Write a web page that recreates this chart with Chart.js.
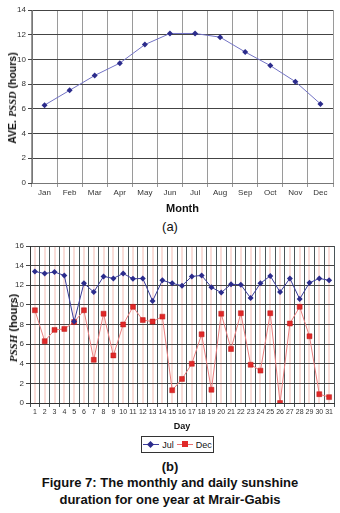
<!DOCTYPE html>
<html>
<head>
<meta charset="utf-8">
<script src="https://cdn.jsdelivr.net/npm/chart.js@4.4.1/dist/chart.umd.min.js"></script>
<style>
  html, body { margin: 0; padding: 0; background: #fff; }
  body { width: 340px; height: 513px; position: relative; overflow: hidden; font-family: "Liberation Sans", Arial, sans-serif; color: #111; }
  .box { position: absolute; left: 0; width: 340px; }
  .ytitle { position: absolute; font-weight: bold; white-space: nowrap; transform: translate(-50%, -50%) rotate(-90deg); }
  .ytitle i { font-family: "Liberation Serif", "Times New Roman", serif; font-weight: bold; }
  .lbl { position: absolute; left: 0; width: 340px; text-align: center; font-weight: bold; }
  .legend { position: absolute; left: 141px; top: 436px; width: 71px; height: 15px; border: 1px solid #333; font-size: 9px; display: flex; align-items: center; justify-content: center; gap: 3px; }
  .key { position: relative; display: inline-block; width: 16px; height: 9px; }
  .key::before { content: ''; position: absolute; left: 0; right: 0; top: 4px; height: 1px; background: var(--line); }
  .key span { position: absolute; left: 5px; top: 1px; width: 6px; height: 6px; background: var(--mark); }
  .key.dia span { width: 5px; height: 5px; left: 5px; top: 2px; transform: rotate(45deg); }
</style>
</head>
<body>
<div class="box" style="top:0;height:218px"><canvas id="monthChart"></canvas></div>
<div class="ytitle" style="left:12px;top:98px;font-size:10.5px">AVE. <i>PSSD</i> (hours)</div>
<div class="lbl" style="top:219px;font-size:13px;font-weight:normal">(a)</div>

<div class="box" style="top:232px;height:202px"><canvas id="dayChart"></canvas></div>
<div class="ytitle" style="left:13px;top:328px;font-size:11px"><i>PSSH</i> (hours)</div>
<div class="legend">
  <span class="key dia" style="--line:#3b3b9a;--mark:#2c2c8c"><span></span></span><span>Jul</span>
  <span class="key" style="--line:#e87070;--mark:#e02828"><span></span></span><span>Dec</span>
</div>
<div class="lbl" style="top:459px;font-size:13px">(b)</div>
<div class="lbl" style="top:474px;font-size:13px;line-height:17px">Figure 7: The monthly and daily sunshine<br>duration for one year at Mrair-Gabis</div>

<script>
// ---------- Data ----------
const MONTHS = ['Jan', 'Feb', 'Mar', 'Apr', 'May', 'Jun', 'Jul', 'Aug', 'Sep', 'Oct', 'Nov', 'Dec'];
const AVE_PSSD = [6.3, 7.5, 8.7, 9.7, 11.2, 12.1, 12.1, 11.8, 10.6, 9.5, 8.2, 6.4];

const DAYS = ['1','2','3','4','5','6','7','8','9','10','11','12','13','14','15','16','17','18','19','20','21','22','23','24','25','26','27','28','29','30','31'];
const JUL = [13.4, 13.2, 13.35, 13.0, 8.3, 12.2, 11.3, 12.9, 12.7, 13.2, 12.65, 12.7, 10.4, 12.5, 12.2, 11.95, 12.9, 13.0, 11.8, 11.25, 12.1, 12.05, 10.7, 12.2, 12.95, 11.3, 12.7, 10.6, 12.25, 12.7, 12.5];
const DEC = [9.45, 6.3, 7.45, 7.55, 8.25, 9.45, 4.4, 9.1, 4.85, 8.0, 9.8, 8.45, 8.3, 8.8, 1.3, 2.45, 4.0, 7.0, 1.35, 9.1, 5.5, 9.15, 3.9, 3.3, 9.15, 0.0, 8.1, 9.8, 6.8, 0.9, 0.6];

const TICK_FONT = { family: '"Liberation Sans", Arial, sans-serif', size: 8 };

// ---------- (a) monthly ----------
new Chart(document.getElementById('monthChart'), {
  type: 'line',
  data: {
    labels: MONTHS,
    datasets: [{
      data: AVE_PSSD,
      borderColor: '#7272c4', borderWidth: 1, tension: 0,
      pointStyle: 'rectRot', pointRadius: 3, pointBackgroundColor: '#2c2c8c', pointBorderColor: '#2c2c8c', pointBorderWidth: 0,
    }],
  },
  options: {
    responsive: true, maintainAspectRatio: false, animation: false,
    layout: { padding: { left: 0, right: 7, top: 10, bottom: 0 } },
    plugins: { legend: { display: false }, tooltip: { enabled: false } },
    scales: {
      x: {
        offset: true,
        grid: { offset: true, color: '#9a9a9a', tickLength: 4, drawTicks: true },
        border: { color: '#777' },
        ticks: { color: '#333', font: TICK_FONT, padding: 1, maxRotation: 0, autoSkip: false },
        title: { display: true, text: 'Month', color: '#111', font: { family: '"Liberation Sans", Arial, sans-serif', size: 11, weight: 'bold' }, padding: { top: 0, bottom: 2 } },
        afterFit: (s) => { s.height = 35; },
      },
      y: {
        min: 0, max: 14,
        grid: { color: '#444', tickLength: 4 },
        border: { color: '#777' },
        ticks: { stepSize: 2, color: '#333', font: TICK_FONT, padding: 2 },
        afterFit: (s) => { s.width = 32; },
      },
    },
  },
});

// ---------- (b) daily ----------
new Chart(document.getElementById('dayChart'), {
  type: 'line',
  data: {
    labels: DAYS,
    datasets: [
      {
        label: 'Jul', data: JUL,
        borderColor: '#3b3b9a', borderWidth: 1, tension: 0,
        pointStyle: 'rectRot', pointRadius: 3, pointBackgroundColor: '#2c2c8c', pointBorderColor: '#2c2c8c', pointBorderWidth: 0,
      },
      {
        label: 'Dec', data: DEC,
        borderColor: '#ec8080', borderWidth: 1, tension: 0,
        pointStyle: 'rect', pointRadius: 3.5, pointBackgroundColor: '#e02828', pointBorderColor: '#b81818', pointBorderWidth: 0.5,
      },
    ],
  },
  options: {
    responsive: true, maintainAspectRatio: false, animation: false,
    layout: { padding: { left: 0, right: 6, top: 14, bottom: 0 } },
    plugins: { legend: { display: false }, tooltip: { enabled: false } },
    scales: {
      x: {
        offset: true,
        grid: { offset: true, color: '#4a5558', tickLength: 4 },
        border: { color: '#333' },
        ticks: { color: '#333', font: { ...TICK_FONT, size: 7 }, padding: 1, maxRotation: 0, autoSkip: false },
        title: { display: true, text: 'Day', color: '#111', font: { family: '"Liberation Sans", Arial, sans-serif', size: 9, weight: 'bold' }, padding: { top: 0, bottom: 2 } },
        afterFit: (s) => { s.height = 31; },
      },
      // faint pink lines through each day, like the original's striping
      x2: {
        type: 'category', labels: DAYS, offset: true, display: true,
        grid: { offset: false, color: 'rgba(240,170,160,0.4)', lineWidth: 2, drawTicks: false },
        border: { display: false },
        ticks: { display: false },
        afterFit: (s) => { s.height = 0; },
      },
      y: {
        min: 0, max: 16,
        grid: { color: '#444', tickLength: 4 },
        border: { color: '#333' },
        ticks: { stepSize: 2, color: '#333', font: TICK_FONT, padding: 2 },
        afterFit: (s) => { s.width = 30; },
      },
    },
  },
});
</script>
</body>
</html>
